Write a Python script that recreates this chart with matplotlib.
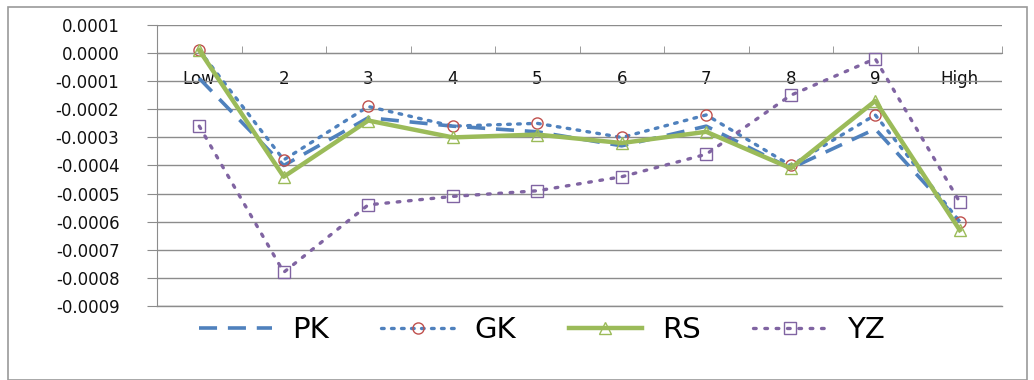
import numpy as np
import matplotlib.pyplot as plt
from matplotlib.patches import Rectangle
from matplotlib.ticker import MultipleLocator, FixedLocator

categories = ['Low', '2', '3', '4', '5', '6', '7', '8', '9', 'High']

pk = [-0.00009, -0.00040, -0.00023, -0.00026, -0.00028, -0.00033, -0.00026, -0.00041, -0.00027, -0.00060]
gk = [0.00001, -0.00038, -0.00019, -0.00026, -0.00025, -0.00030, -0.00022, -0.00040, -0.00022, -0.00060]
rs = [0.00001, -0.00044, -0.00024, -0.00030, -0.00029, -0.00032, -0.00028, -0.00041, -0.00017, -0.00063]
yz = [-0.00026, -0.00078, -0.00054, -0.00051, -0.00049, -0.00044, -0.00036, -0.00015, -0.00002, -0.00053]

blue = '#4F81BD'
red = '#C0504D'
green = '#9BBB59'
purple = '#8064A2'
grid_col = '#8C8C8C'

fig = plt.figure(figsize=(10.34, 3.8), dpi=100)
fig.patches.append(Rectangle((8 / 1034, 0), 1019 / 1034, 1 - 7 / 380,
                             transform=fig.transFigure, fill=False,
                             edgecolor='#9A9A9A', linewidth=1.2))
ax = fig.add_axes([157 / 1034, 1 - 306 / 380, 845 / 1034, 281 / 380])

x = np.arange(len(categories))

ax.plot(x, pk, color=blue, linewidth=2.6, linestyle=(0, (5, 3)), label='PK', zorder=3)
ax.plot(x, gk, color=blue, linewidth=2.4, linestyle=(0, (0.8, 2.2)),
        dash_capstyle='round', marker='o', markersize=8, markerfacecolor='none',
        markeredgecolor=red, markeredgewidth=1.0, label='GK', zorder=4)
ax.plot(x, rs, color=green, linewidth=3.2, marker='^', markersize=9,
        markerfacecolor='none', markeredgecolor=green, markeredgewidth=1.0,
        label='RS', zorder=5)
ax.plot(x, yz, color=purple, linewidth=2.4, linestyle=(0, (0.8, 2.6)),
        dash_capstyle='round', marker='s', markersize=8, markerfacecolor='none',
        markeredgecolor=purple, markeredgewidth=1.0, label='YZ', zorder=4)

ax.set_xlim(-0.5, len(categories) - 0.5)
ax.set_ylim(-0.0009, 0.0001)
ax.yaxis.set_major_locator(MultipleLocator(0.0001))
ax.set_yticklabels([f'{v:.4f}' for v in ax.get_yticks()])
ax.yaxis.grid(True, color=grid_col, linewidth=1.0)
ax.axhline(-0.0009, color=grid_col, linewidth=1.0, clip_on=False, zorder=1)
ax.set_axisbelow(True)

# category axis sits at zero, labels hang just below it
ax.spines['bottom'].set_position(('data', 0))
ax.spines['bottom'].set_color(grid_col)
ax.spines['left'].set_color(grid_col)
ax.spines['top'].set_visible(False)
ax.spines['right'].set_visible(False)
ax.set_xticks(x)
ax.set_xticklabels(categories)
ax.xaxis.set_minor_locator(FixedLocator(np.arange(0.5, len(categories), 1.0)))
ax.tick_params(axis='x', which='major', length=0, pad=12, labelsize=12)
ax.tick_params(axis='x', which='minor', length=5, color=grid_col, direction='in')
ax.tick_params(axis='y', length=7, color=grid_col, labelsize=12, pad=20)

for lbl in ax.get_yticklabels() + ax.get_xticklabels():
    lbl.set_color('#111111')

leg = ax.legend(loc='center', bbox_to_anchor=(0.455, -0.085), ncol=4,
                frameon=False, fontsize=21, handlelength=2.5,
                columnspacing=1.8, handletextpad=0.7)

fig.savefig('out.png', dpi=100)
